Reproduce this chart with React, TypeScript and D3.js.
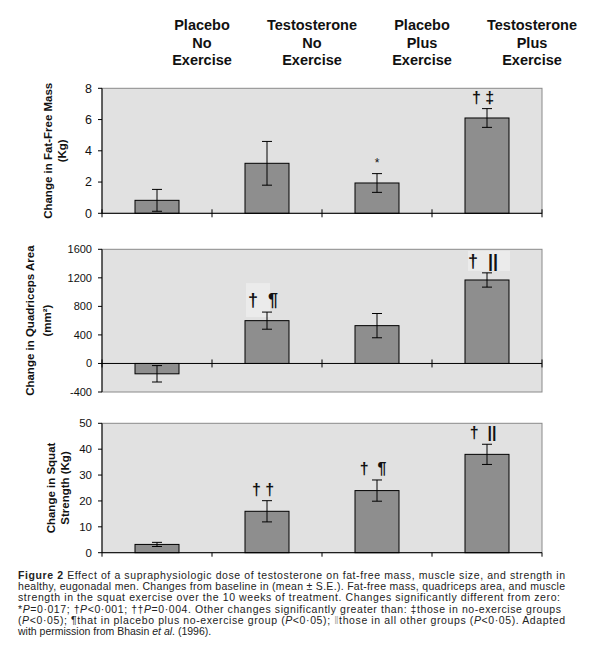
import * as d3 from 'd3';

// Groups (columns) and their header lines
const groups = ['PNE', 'TNE', 'PPE', 'TPE'];
const headerLines = [
  ['Placebo', 'No', 'Exercise'],
  ['Testosterone', 'No', 'Exercise'],
  ['Placebo', 'Plus', 'Exercise'],
  ['Testosterone', 'Plus', 'Exercise'],
];

// Panel 1: fat-free mass (kg)
const fatFree = [0.83, 3.2, 1.94, 6.1];
const fatFreeErr = [0.7, 1.4, 0.6, 0.6];
const fatFreeTicks = [0, 2, 4, 6, 8];
const fatFreeNotes = ['', '', '*', '† ‡'];

// Panel 2: quadriceps area (mm²)
const quad = [-145, 600, 530, 1170];
const quadErr = [115, 120, 170, 100];
const quadTicks = [-400, 0, 400, 800, 1200, 1600];
const quadNotes = ['', '†  ¶', '', '†  ||'];

// Panel 3: squat strength (kg)
const squat = [3.2, 16, 24, 38];
const squatErr = [0.8, 4.1, 4.1, 3.9];
const squatTicks = [0, 10, 20, 30, 40, 50];
const squatNotes = ['', '† †', '†  ¶', '†  ||'];

const captionLines = [
  "Effect of a supraphysiologic dose of testosterone on fat-free mass, muscle size, and strength in",
  "healthy, eugonadal men. Changes from baseline in (mean ± S.E.). Fat-free mass, quadriceps area, and muscle",
  "strength in the squat exercise over the 10 weeks of treatment. Changes significantly different from zero:",
];

const FONT = "'Liberation Sans', Arial, sans-serif";
const left = 102;
const right = 542;

const x = d3.scaleBand<string>().domain(groups).range([left, right]).padding(0);
const barW = x.bandwidth() * 0.4;

interface PanelProps {
  values: number[];
  errs: number[];
  ticks: number[];
  notes: string[];
  y: d3.ScaleLinear<number, number>;
  tickSize: number;
  title: string[];
  titleX: number[];
  noteSize: number;
  noteBoxes?: boolean;
  crossTicks: boolean;
}

const Panel = ({ values, errs, ticks, notes, y, tickSize, title, titleX, noteSize, noteBoxes, crossTicks }: PanelProps) => {
  const [d0, d1] = y.domain();
  const top = y(d1);
  const bottom = y(d0);
  const zero = y(0);
  const midY = (top + bottom) / 2;
  const boundaries = [...groups.map(g => x(g)!), right];
  return (
    <g>
      <rect x={left} y={top} width={right - left} height={bottom - top} fill="#e1e1e1" stroke="#8a8a8a" strokeWidth={1} />
      {/* annotation boxes (panel 2 artifacts) */}
      {noteBoxes && notes.map((n, i) => {
        if (!n) return null;
        const cx = x(groups[i])! + x.bandwidth() / 2;
        const base = y(values[i] + errs[i]) - 6;
        return i === 1
          ? <rect key={'b' + i} x={cx - 21} y={base - 23} width={24} height={34} fill="#ebebeb" />
          : <rect key={'b' + i} x={cx - 19} y={base - 16} width={42} height={20} fill="#ebebeb" />;
      })}
      {values.map((v, i) => {
        const bx = x(groups[i])! + (x.bandwidth() - barW) / 2;
        return (
          <rect key={i} x={bx} y={Math.min(y(v), zero)} width={barW} height={Math.abs(y(v) - zero)}
            fill="#8e8e8e" stroke="#000" strokeWidth={1} />
        );
      })}
      {values.map((v, i) => {
        const cx = x(groups[i])! + x.bandwidth() / 2;
        const hi = y(v + errs[i]);
        const lo = y(v - errs[i]);
        return (
          <g key={'e' + i} stroke="#000" strokeWidth={1}>
            <line x1={cx} x2={cx} y1={hi} y2={lo} />
            <line x1={cx - 5} x2={cx + 5} y1={hi} y2={hi} />
            <line x1={cx - 5} x2={cx + 5} y1={lo} y2={lo} />
          </g>
        );
      })}
      {notes.map((n, i) => {
        if (!n) return null;
        const cx = x(groups[i])! + x.bandwidth() / 2;
        const star = n === '*';
        const base = y(values[i] + errs[i]) - (star ? 7 : 6);
        return (
          <text key={'n' + i} x={cx + (star ? 0 : -4)} y={base} textAnchor="middle"
            fontFamily={FONT} fontSize={star ? 12 : noteSize} fontWeight={star ? 'normal' : 'bold'} fill="#111"
            style={{ whiteSpace: 'pre' }}>
            {n}
          </text>
        );
      })}
      {/* y axis */}
      <line x1={left} x2={left} y1={top} y2={bottom} stroke="#000" />
      {ticks.map(t => (
        <g key={t}>
          <line x1={left - 4} x2={left} y1={y(t)} y2={y(t)} stroke="#000" />
          <text x={left - 10} y={y(t)} dy="0.35em" textAnchor="end" fontFamily={FONT} fontSize={tickSize} fill="#111">{t}</text>
        </g>
      ))}
      {/* x axis at zero */}
      <line x1={left} x2={right} y1={zero} y2={zero} stroke="#000" />
      {boundaries.map((b, i) => (
        <line key={'t' + i} x1={b} x2={b} y1={crossTicks ? zero - 4 : zero} y2={zero + 4} stroke="#000" />
      ))}
      {/* y title */}
      {title.map((t, i) => (
        <text key={'ti' + i} transform={`translate(${titleX[i]},${midY}) rotate(-90)`} textAnchor="middle"
          dy="0.35em" fontFamily={FONT} fontSize={11.5} fontWeight="bold" fill="#111">{t}</text>
      ))}
    </g>
  );
};

export default function App() {
  const y1 = d3.scaleLinear().domain([0, 8]).range([213.3, 88.3]);
  const y2 = d3.scaleLinear().domain([-400, 1600]).range([392, 249.3]);
  const y3 = d3.scaleLinear().domain([0, 50]).range([552.7, 423.3]);
  return (
    <svg width={600} height={668} style={{ position: 'absolute', left: 0, top: 0, background: '#fff' }}>
      <rect width={600} height={668} fill="#fff" />
      {headerLines.map((lines, i) => (
        <text key={i} textAnchor="middle" fontFamily={FONT} fontSize={14.5} fontWeight="bold" fill="#111">
          {lines.map((l, j) => (
            <tspan key={j} x={x(groups[i])! + x.bandwidth() / 2 + 45} y={30 + j * 17.5}>{l}</tspan>
          ))}
        </text>
      ))}
      <Panel values={fatFree} errs={fatFreeErr} ticks={fatFreeTicks} notes={fatFreeNotes} y={y1}
        tickSize={12.5} title={['Change in Fat-Free Mass', '(Kg)']} titleX={[48, 62]} noteSize={16} crossTicks />
      <Panel values={quad} errs={quadErr} ticks={quadTicks} notes={quadNotes} y={y2}
        tickSize={11} title={['Change in Quadriceps Area', '(mm²)']} titleX={[30, 47]} noteSize={18} noteBoxes crossTicks />
      <Panel values={squat} errs={squatErr} ticks={squatTicks} notes={squatNotes} y={y3}
        tickSize={11.5} title={['Change in Squat', 'Strength (Kg)']} titleX={[51, 65]} noteSize={16} crossTicks={false} />
      <g fontFamily={FONT} fontSize={10.5} fill="#222">
        <text x={18} y={579} textLength={547} lengthAdjust="spacing">
          <tspan fontWeight="bold">Figure 2</tspan> {captionLines[0]}
        </text>
        <text x={18} y={590.2} textLength={547} lengthAdjust="spacing">{captionLines[1]}</text>
        <text x={18} y={601.4} textLength={542} lengthAdjust="spacing">{captionLines[2]}</text>
        <text x={18} y={612.6} textLength={543} lengthAdjust="spacing">
          *<tspan fontStyle="italic">P</tspan>=0·017; †<tspan fontStyle="italic">P</tspan>&lt;0·001; ††<tspan fontStyle="italic">P</tspan>=0·004. Other changes significantly greater than: ‡those in no-exercise groups
        </text>
        <text x={18} y={623.8} textLength={547} lengthAdjust="spacing">
          (<tspan fontStyle="italic">P</tspan>&lt;0·05); ¶that in placebo plus no-exercise group (<tspan fontStyle="italic">P</tspan>&lt;0·05); <tspan fill="#aaa">‖</tspan>those in all other groups (<tspan fontStyle="italic">P</tspan>&lt;0·05). Adapted
        </text>
        <text x={18} y={635}>
          with permission from Bhasin <tspan fontStyle="italic">et al</tspan>. (1996).
        </text>
      </g>
    </svg>
  );
}
